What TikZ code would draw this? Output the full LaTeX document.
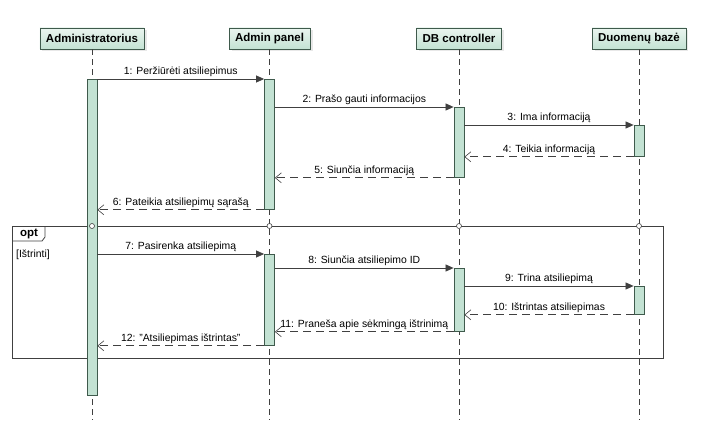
\documentclass[tikz,border=0pt]{standalone}
\usepackage{fontspec}
\setmainfont{Liberation Sans}
\usetikzlibrary{positioning,arrows.meta,shadows,calc}
\definecolor{umlfill}{HTML}{C3E2D3}
\definecolor{umltop}{HTML}{EAF5EF}
\definecolor{umldraw}{HTML}{3F5A4C}
\definecolor{umlline}{HTML}{404040}
\tikzstyle{actor} = [draw=umldraw, top color=umltop, bottom color=umlfill, minimum height=21pt, inner xsep=6pt, font=\fontsize{11.5}{13}\selectfont\bfseries, drop shadow={shadow xshift=2.5pt, shadow yshift=-2.5pt, fill=black!18}]
\tikzstyle{lifeline} = [draw=umlline, dash pattern=on 6pt off 4pt, line width=0.7pt]
\tikzstyle{bar} = [draw=umldraw, fill=umlfill, minimum width=10pt, inner sep=0pt, anchor=north, line width=0.8pt]
\tikzstyle{msg} = [umlline, line width=0.7pt, -{Triangle[length=8pt,width=7pt]}]
\tikzstyle{reply} = [umlline, line width=0.7pt, dash pattern=on 8pt off 5pt, -{Straight Barb[length=6pt,width=10pt,line width=0.6pt]}]
\tikzstyle{lbl} = [midway, above=1pt, inner sep=1pt, font=\fontsize{10.4}{12}\selectfont, text=black]
\tikzstyle{frame} = [draw=umlline, line width=0.8pt]

\begin{document}
\begin{tikzpicture}[x=1pt, y=-1pt]
    \useasboundingbox (0,0) rectangle (701,428);
    % lifelines
    \node[actor] (admin) at (92,38.5) {Administratorius};
    \node[actor] (panel) at (269.5,38.5) {Admin panel};
    \node[actor] (ctrl) at (459,38.5) {DB controller};
    \node[actor] (db) at (639,38.5) {Duomenų bazė};
    \coordinate (bottom) at (0,420);
    \foreach \n in {admin,panel,ctrl,db}
        \draw[lifeline] (\n.south) -- (\n |- bottom);

    % opt fragment
    \coordinate (optNW) at (12,226);
    \coordinate (optSE) at (663,358);
    \draw[frame] (optNW) rectangle (optSE);
    \draw[frame] ($(optNW)+(0,15)$) -- ++(30,0) -- ++(3,-4) -- ++(0,-11);
    \node[font=\fontsize{11.5}{13}\selectfont\bfseries, inner sep=0pt] (opt) at (29,233.5) {opt};
    \node[anchor=west, inner sep=0pt, font=\fontsize{10.4}{12}\selectfont] (guard) at (16,255) {[Ištrinti]};

    % activations
    \node[bar, minimum height=316pt] (aA) at (92,79) {};
    \node[bar, minimum height=130pt] (aP1) at (269.5,79) {};
    \node[bar, minimum height=70pt] (aC1) at (459,107) {};
    \node[bar, minimum height=31pt] (aD1) at (639,125) {};
    \node[bar, minimum height=91pt] (aP2) at (269.5,254) {};
    \node[bar, minimum height=63pt] (aC2) at (459,268) {};
    \node[bar, minimum height=28pt] (aD2) at (639,286) {};

    \foreach \n in {admin,panel,ctrl,db}
        \node[circle, draw=umlline, fill=white, inner sep=0pt, minimum size=5pt, line width=0.6pt] (o-\n) at (\n |- optNW) {};

    % messages
    \draw[msg] (aA.east |- aP1.north) -- node[lbl] {1: Peržiūrėti atsiliepimus} (aP1.north west);
    \draw[msg] (aP1.east |- aC1.north) -- node[lbl] {2: Prašo gauti informacijos} (aC1.north west);
    \draw[msg] (aC1.east |- aD1.north) -- node[lbl] {3: Ima informaciją} (aD1.north west);
    \draw[reply] (aD1.south west) -- node[lbl] {4: Teikia informaciją} (aC1.east |- aD1.south);
    \draw[reply] (aC1.south west) -- node[lbl] {5: Siunčia informaciją} (aP1.east |- aC1.south);
    \draw[reply] (aP1.south west) -- node[lbl] {6: Pateikia atsiliepimų sąrašą} (aA.east |- aP1.south);
    \draw[msg] (aA.east |- aP2.north) -- node[lbl] {7: Pasirenka atsiliepimą} (aP2.north west);
    \draw[msg] (aP2.east |- aC2.north) -- node[lbl] {8: Siunčia atsiliepimo ID} (aC2.north west);
    \draw[msg] (aC2.east |- aD2.north) -- node[lbl] {9: Trina atsiliepimą} (aD2.north west);
    \draw[reply] (aD2.south west) -- node[lbl] {10: Ištrintas atsiliepimas} (aC2.east |- aD2.south);
    \draw[reply] (aC2.south west) -- node[lbl] {11: Praneša apie sėkmingą ištrinimą} (aP2.east |- aC2.south);
    \draw[reply] (aP2.south west) -- node[lbl] {12: "Atsiliepimas ištrintas"} (aA.east |- aP2.south);
\end{tikzpicture}
\end{document}
